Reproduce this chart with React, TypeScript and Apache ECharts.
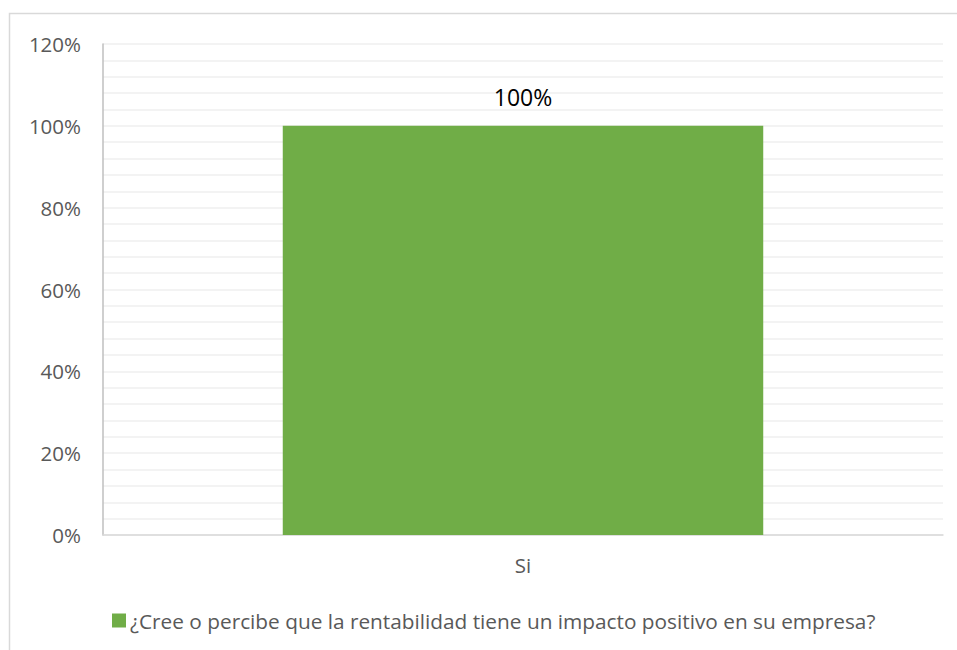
import React, { useEffect, useRef } from "react";
import * as echarts from "echarts";

const categories = ["Si"];
const seriesName = "¿Cree o percibe que la rentabilidad tiene un impacto positivo en su empresa?";
const values = [1.0];

export default function App() {
  const ref = useRef<HTMLDivElement>(null);
  useEffect(() => {
    if (!ref.current) return;
    const chart = echarts.init(ref.current, undefined, { renderer: "svg" });
    const font = "'Open Sans', 'Noto Sans', sans-serif";
    chart.setOption({
      animation: false,
      backgroundColor: "#ffffff",
      textStyle: { fontFamily: font },
      graphic: [
        {
          type: "rect",
          shape: { x: 9.5, y: 13.5, width: 1000, height: 700 },
          style: { fill: "none", stroke: "#d9d9d9", lineWidth: 1.5 },
          silent: true,
          z: -10,
        },
      ],
      grid: { left: 103, right: 14, top: 44, bottom: 115, containLabel: false },
      legend: {
        top: 610,
        left: 112,
        padding: 0,
        itemWidth: 14,
        itemHeight: 14,
        itemGap: 10,
        icon: "rect",
        textStyle: { fontSize: 20.8, color: "#595959", fontFamily: font, padding: [0, 0, 0, -1] },
        data: [seriesName],
      },
      xAxis: {
        type: "category",
        data: categories,
        axisLine: { show: true, lineStyle: { color: "#d9d9d9", width: 1.5 } },
        axisTick: { show: false },
        axisLabel: { fontSize: 20.5, color: "#595959", margin: 19, fontFamily: font },
      },
      yAxis: {
        type: "value",
        min: 0,
        max: 1.2,
        interval: 0.2,
        axisLine: { show: true, lineStyle: { color: "#bfbfbf", width: 1.5 } },
        axisTick: { show: false },
        axisLabel: {
          fontSize: 20.5,
          color: "#595959",
          margin: 22,
          fontFamily: font,
          formatter: (v: number) => Math.round(v * 100) + "%",
        },
        splitLine: { show: true, lineStyle: { color: "#efefef", width: 1.5 } },
        minorTick: { show: false, splitNumber: 5 },
        minorSplitLine: { show: true, lineStyle: { color: "#efefef", width: 1.5 } },
      },
      series: [
        {
          name: seriesName,
          type: "bar",
          data: values,
          barWidth: "57.2%",
          itemStyle: { color: "#70ad47" },
          label: {
            show: true,
            position: "top",
            distance: 17,
            fontSize: 23,
            color: "#000000",
            fontFamily: font,
            formatter: (p: any) => Math.round(p.value * 100) + "%",
          },
        },
      ],
    });
    return () => chart.dispose();
  }, []);
  return (
    <div
      ref={ref}
      style={{ position: "fixed", left: 0, top: 0, width: 957, height: 650 }}
    />
  );
}
